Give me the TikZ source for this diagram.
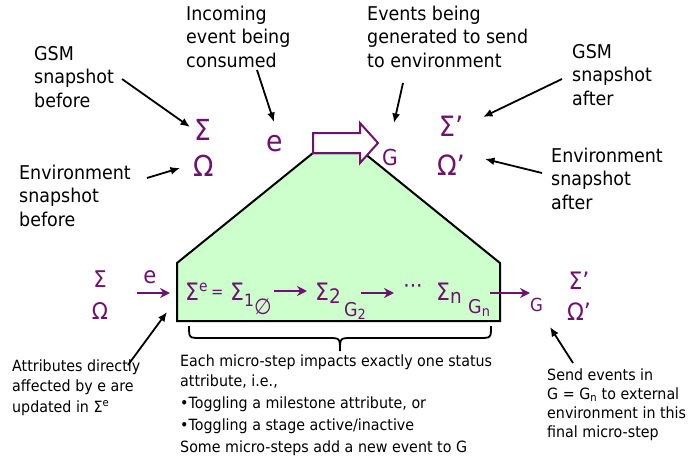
\documentclass[tikz,border=0pt]{standalone}
\usepackage{fontspec}
\setmainfont{DejaVu Sans}[FakeStretch=0.92]
\usetikzlibrary{arrows.meta}
\definecolor{pur}{RGB}{112,16,112}
\definecolor{lgreen}{RGB}{204,255,204}
\newcommand{\fs}[1]{\fontsize{#1}{#1}\selectfont}
\begin{document}
\begin{tikzpicture}[x=1pt,y=-1pt,
  lab/.style={inner sep=0pt, anchor=base west, align=left, font=\fontsize{19}{23.5}\selectfont},
  small/.style={inner sep=0pt, anchor=base west, align=left, font=\fontsize{15.5}{20.5}\selectfont},
  sym/.style={inner sep=0pt, text=pur, font=\fs{28}},
  eqs/.style={inner sep=0pt, text=pur, anchor=base west, font=\fs{24}},
  blk/.style={-{Latex[length=9.5pt,width=8pt]}, line width=1.8pt},
  parr/.style={-{Stealth[length=10pt,width=10pt]}, line width=2.4pt, draw=pur},
]
\useasboundingbox (0,0) rectangle (691,460);

% green block
\draw[line width=2pt, fill=lgreen] (313,153) -- (364,153) -- (500,263) -- (500,321) -- (177,321) -- (177,263) -- cycle;
% block arrow
\draw[line width=2pt, draw=pur, fill=white] (313,133) -- (360,133) -- (360,123) -- (378,143) -- (360,163) -- (360,153) -- (313,153) -- cycle;

% top labels (anchored at baseline of last line)
\node[lab] (gsmb) at (34,107) {GSM\\snapshot\\before};
\node[lab] (inc) at (186,67) {Incoming\\event being\\consumed};
\node[lab] (evg) at (367,67) {Events being\\generated to send\\to environment};
\node[lab] (gsma) at (572,105) {GSM\\snapshot\\after};
\node[lab] (envb) at (19,226) {Environment\\snapshot\\before};
\node[lab] (enva) at (551,209) {Environment\\snapshot\\after};

% top symbols
\node[sym, font=\fs{29}] (sig) at (203,130) {Σ};
\node[sym, font=\fs{29}] (om) at (204,166) {Ω};
\node[sym, font=\fs{29}] (ev) at (275,144) {e};
\node[sym, font=\fs{22}] (gg) at (390,157) {G};
\node[sym] (sigp) at (451,126) {Σ’};
\node[sym] (omp) at (451,165) {Ω’};

% top arrows
\coordinate (a1s) at (122,79);  \coordinate (a1e) at (190,127);
\coordinate (a2s) at (257,70);  \coordinate (a2e) at (274,122);
\coordinate (a3s) at (147,178); \coordinate (a3e) at (180,168);
\coordinate (a4s) at (403,83);  \coordinate (a4e) at (394,123);
\coordinate (a5s) at (562,79);  \coordinate (a5e) at (483,117);
\coordinate (a6s) at (542,173); \coordinate (a6e) at (485,159);
\draw[blk] (a1s) -- (a1e);
\draw[blk] (a2s) -- (a2e);
\draw[blk] (a3s) -- (a3e);
\draw[blk] (a4s) -- (a4e);
\draw[blk] (a5s) -- (a5e);
\draw[blk] (a6s) -- (a6e);

% bottom left
\node[sym, font=\fs{23}] (sigb) at (100,279) {Σ};
\node[sym, font=\fs{23}] (omb) at (100,311) {Ω};
\node[sym, font=\fs{23}] (eb) at (150,277) {e};
\coordinate (b1s) at (137,293); \coordinate (b1e) at (170,293);
\draw[parr] (b1s) -- (b1e);

% equation
\node[eqs] (se) at (185,300) {Σ\raisebox{9pt}{\fs{15}e}};
\node[eqs, font=\fs{16}] (eq) at (211,297) {=};
\node[eqs] (s1) at (230,300) {Σ\raisebox{-6pt}{\fs{17}1}};
\node[sym, font=\fs{22}] (emp) at (263,307) {∅};
\node[eqs] (s2) at (315,300) {Σ\raisebox{-3pt}{\fs{20}2}};
\node[eqs, font=\fs{19}] (g2) at (344,316) {G\raisebox{-3pt}{\fs{14}2}};
\node[sym, font=\fs{22}] (dots) at (413,289) {···};
\node[eqs] (sn) at (436,300) {Σ\raisebox{-3pt}{\fs{20}n}};
\node[eqs, font=\fs{19}] (gn) at (468,313) {G\raisebox{-3pt}{\fs{14}n}};
\coordinate (e1s) at (274,291); \coordinate (e1e) at (307,291);
\coordinate (e2s) at (361,293); \coordinate (e2e) at (394,293);
\coordinate (e3s) at (490,293); \coordinate (e3e) at (530,293);
\draw[parr] (e1s) -- (e1e);
\draw[parr] (e2s) -- (e2e);
\draw[parr] (e3s) -- (e3e);

% bottom right symbols
\node[eqs, font=\fs{18}] (gout) at (530,311) {G};
\node[sym, font=\fs{24}] (sigq) at (579,281) {Σ’};
\node[sym, font=\fs{24}] (omq) at (579,312) {Ω’};

% attributes label
\node[small] (attr) at (12,412) {Attributes directly\\affected by e are\\updated in Σ\textsuperscript{e}};
\coordinate (c1s) at (128,365); \coordinate (c1e) at (167,312);
\draw[blk] (c1s) -- (c1e);

% brace
\draw[line width=1.8pt] (189,326) .. controls (189,338) .. (201,338) -- (328,338)
  .. controls (340,338) .. (340,351) .. controls (340,338) .. (352,338) -- (479,338)
  .. controls (491,338) .. (491,326);

% micro-step text
\node[small] (p1) at (180,366) {Each micro-step impacts exactly one status};
\node[small] (p2) at (180,386) {attribute, i.e.,};
\node[small] (p3) at (180,408) {•Toggling a milestone attribute, or};
\node[small] (p4) at (180,430) {•Toggling a stage active/inactive};
\node[small] (p5) at (180,452) {Some micro-steps add a new event to G};

% send label
\node[small, font=\fontsize{15.5}{18.7}\selectfont] (send) at (547,437) {Send events in\\G = G\textsubscript{n} to external\\environment in this\\final micro-step};
\coordinate (d1s) at (573,363); \coordinate (d1e) at (550,327);
\draw[blk] (d1s) -- (d1e);
\end{tikzpicture}
\end{document}
